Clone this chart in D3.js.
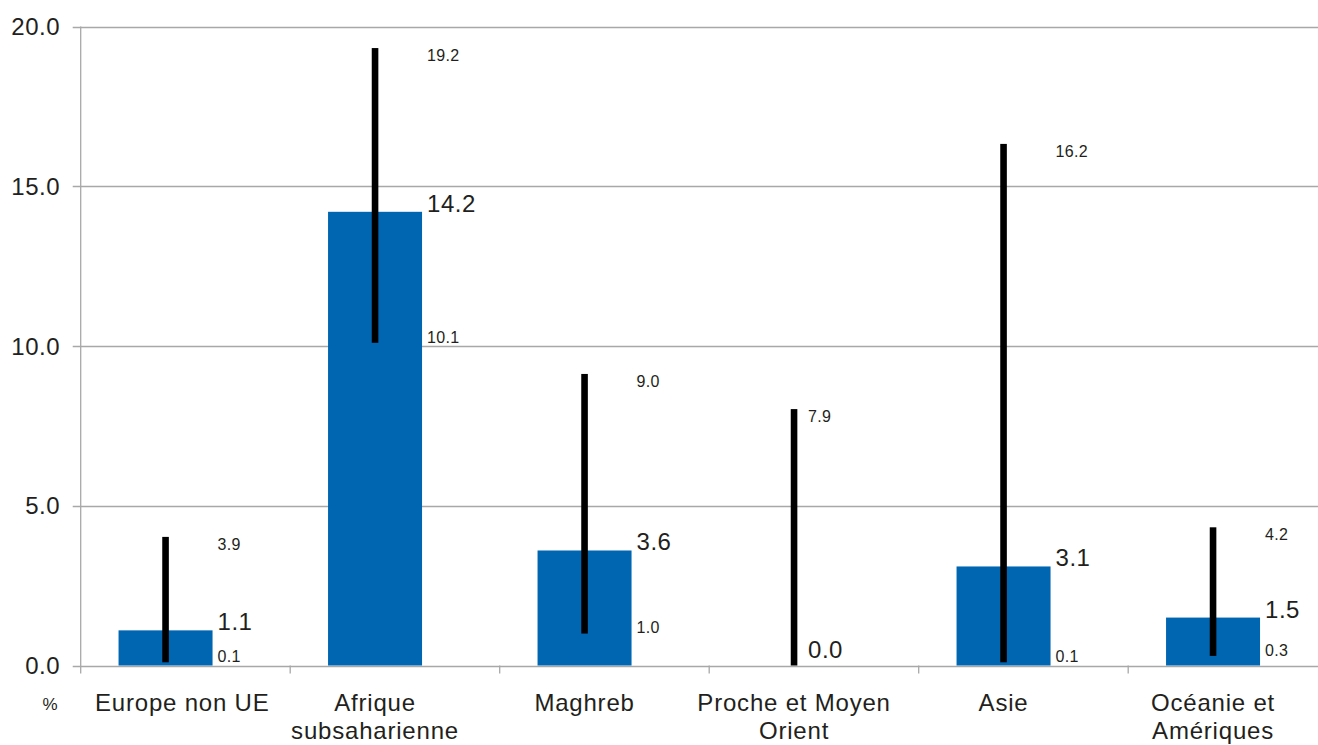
<!DOCTYPE html>
<html>
<head>
<meta charset="utf-8">
<script src="https://cdn.jsdelivr.net/npm/d3@7"></script>
<style>
  html, body { margin: 0; padding: 0; background: #fff; }
  svg { display: block; }
  text { font-family: "Liberation Sans", Arial, sans-serif; fill: #231f20; }
</style>
</head>
<body>
<svg id="chart" width="1318" height="745"></svg>
<script>
// ---- Data ----
const categories = [
  ["Europe non UE"],
  ["Afrique", "subsaharienne"],
  ["Maghreb"],
  ["Proche et Moyen", "Orient"],
  ["Asie"],
  ["Océanie et", "Amériques"]
];
const values = [1.1, 14.2, 3.6, 0.0, 3.1, 1.5];
const lower  = [0.1, 10.1, 1.0, 0.0, 0.1, 0.3];
const upper  = [3.9, 19.2, 9.0, 7.9, 16.2, 4.2];
const yTicks = [0, 5, 10, 15, 20];
const yUnit = "%";

// ---- Layout ----
const W = 1318, H = 745;
const left = 80.7, plotRight = 1318;
const y0px = 665.5, y20px = 26.5;
const step = 209.5;

const svg = d3.select("#chart");
const keys = categories.map((c, i) => i);

const x = d3.scaleBand().domain(keys).range([left, left + step * keys.length]).padding(0);
const y = d3.scaleLinear().domain([0, 20]).range([y0px, y20px]);

const barW = 94;
const barCenter = i => x(i) + x.bandwidth() * 0.405;

// gridlines
svg.append("g")
  .selectAll("line")
  .data(yTicks)
  .join("line")
  .attr("x1", left - 8).attr("x2", plotRight)
  .attr("y1", d => Math.round(y(d)) + 0.5).attr("y2", d => Math.round(y(d)) + 0.5)
  .attr("stroke", "#a8a8a8").attr("stroke-width", 1.3);

// y axis line
svg.append("line")
  .attr("x1", left).attr("x2", left)
  .attr("y1", y(20)).attr("y2", y0px + 8)
  .attr("stroke", "#a8a8a8").attr("stroke-width", 1.3);

// x ticks at band boundaries
svg.append("g")
  .selectAll("line")
  .data(keys.slice(1))
  .join("line")
  .attr("x1", d => x(d)).attr("x2", d => x(d))
  .attr("y1", y0px).attr("y2", y0px + 8)
  .attr("stroke", "#a8a8a8").attr("stroke-width", 1.3);

// y tick labels
svg.append("g")
  .selectAll("text")
  .data(yTicks)
  .join("text")
  .attr("x", 60).attr("y", d => y(d) + 8.6)
  .attr("text-anchor", "end")
  .attr("font-size", 24)
  .attr("letter-spacing", 0.5)
  .text(d => d3.format(".1f")(d));

// unit
svg.append("text")
  .attr("x", 50).attr("y", 710)
  .attr("text-anchor", "middle")
  .attr("font-size", 17)
  .text(yUnit);

// bars
svg.append("g")
  .selectAll("rect")
  .data(values)
  .join("rect")
  .attr("x", (d, i) => barCenter(i) - barW / 2)
  .attr("width", barW)
  .attr("y", d => y(d))
  .attr("height", d => y(0) - y(d))
  .attr("fill", "#0066b1");

// error bars
const errW = 6.6;
svg.append("g")
  .selectAll("rect")
  .data(values)
  .join("rect")
  .attr("x", (d, i) => barCenter(i) - errW / 2)
  .attr("width", errW)
  .attr("y", (d, i) => y(upper[i]) - 4)
  .attr("height", (d, i) => y(lower[i]) - y(upper[i]) + 4)
  .attr("fill", "#000");

const labelX = (i) => values[i] > 0 ? barCenter(i) + barW / 2 + 5 : barCenter(i) + 14;

// main value labels
svg.append("g")
  .selectAll("text")
  .data(values)
  .join("text")
  .attr("x", (d, i) => labelX(i))
  .attr("y", d => Math.min(y(d), y(0) - 8))
  .attr("font-size", 24)
  .attr("letter-spacing", 0.5)
  .text(d => d3.format(".1f")(d));

// upper labels
svg.append("g")
  .selectAll("text")
  .data(upper)
  .join("text")
  .attr("x", (d, i) => labelX(i))
  .attr("y", d => y(d) + 3 + 5.8)
  .attr("font-size", 16)
  .attr("letter-spacing", 0.3)
  .text(d => d3.format(".1f")(d));

// lower labels (skip where it coincides with the value label)
svg.append("g")
  .selectAll("text")
  .data(lower.map((d, i) => ({ d, i })).filter(o => values[o.i] > 0))
  .join("text")
  .attr("x", o => labelX(o.i))
  .attr("y", o => y(o.d) - 6 + 5.8)
  .attr("font-size", 16)
  .attr("letter-spacing", 0.3)
  .text(o => d3.format(".1f")(o.d));

// category labels
const catG = svg.append("g");
categories.forEach((lines, i) => {
  const t = catG.append("text")
    .attr("x", barCenter(i))
    .attr("y", 711)
    .attr("text-anchor", "middle")
    .attr("font-size", 24)
    .attr("letter-spacing", 0.8);
  lines.forEach((ln, k) => {
    t.append("tspan").attr("x", barCenter(i)).attr("dy", k === 0 ? 0 : 28).text(ln);
  });
  const bb = t.node().getBBox();
  if (bb.x < 95) {
    const shift = 95 - bb.x;
    t.selectAll("tspan").attr("x", barCenter(i) + shift);
  }
});
</script>
</body>
</html>
